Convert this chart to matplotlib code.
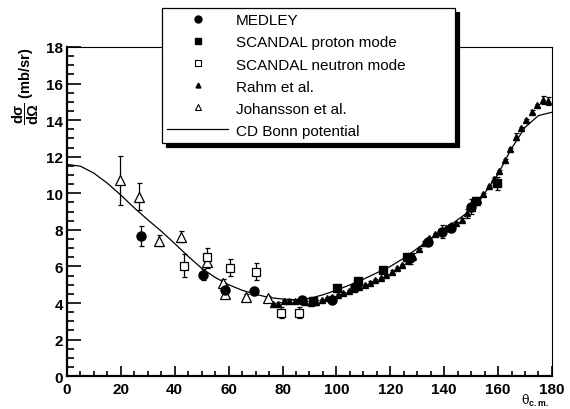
import matplotlib
matplotlib.use("Agg")
import matplotlib.pyplot as plt
from matplotlib.lines import Line2D
from matplotlib.ticker import MultipleLocator

plt.rcParams['font.family'] = ['Liberation Sans', 'DejaVu Sans']
plt.rcParams['font.weight'] = 'bold'
plt.rcParams['mathtext.fontset'] = 'custom'
plt.rcParams['mathtext.rm'] = 'Liberation Sans'
plt.rcParams['mathtext.it'] = 'Liberation Sans:italic'
plt.rcParams['mathtext.bf'] = 'Liberation Sans:bold'

# MEDLEY
medley_x = [27.3, 50.4, 58.6, 69.3, 87.1, 98.3, 106.9, 127.3, 134.1, 139.1, 142.6, 150.0]
medley_y = [7.67, 5.54, 4.72, 4.65, 4.17, 4.18, 4.90, 6.45, 7.36, 7.90, 8.10, 9.27]
medley_err = [0.55, 0.3, 0.25, 0.2, 0.15, 0.15, 0.2, 0.3, 0.2, 0.35, 0.2, 0.4]

# SCANDAL proton mode
sp_x = [91.4, 100.1, 108.1, 117.4, 126.1, 151.8, 159.5]
sp_y = [4.13, 4.81, 5.21, 5.78, 6.54, 9.58, 10.55]
sp_err = [0.1, 0.1, 0.1, 0.1, 0.15, 0.2, 0.35]

# SCANDAL neutron mode
sn_x = [43.4, 52.1, 60.5, 70.2, 79.3, 86.1]
sn_y = [6.05, 6.5, 5.94, 5.72, 3.48, 3.48]
sn_err = [0.65, 0.5, 0.45, 0.47, 0.3, 0.3]

# Rahm et al.
rahm_x = [76.5, 78.5, 80.5, 82.5, 84.5, 88.5, 90.5, 92.5, 94.5, 96.5, 98.5, 100.5,
          102.5, 104.5, 106.5, 108.5, 110.5, 112.5, 114.5, 116.5, 118.5, 120.5, 122.5,
          124.5, 126.5, 128.5, 130.5, 132.5, 134.5, 136.5, 138.5, 140.5, 142.5, 144.5,
          146.5, 148.5, 150.5, 152.5, 154.5, 156.5, 158.5, 160.5, 162.5, 164.5, 166.5,
          168.5, 170.5, 172.5, 174.5, 176.5, 178.5]
rahm_y = [3.95, 3.97, 4.10, 4.12, 4.12, 4.05, 4.02, 4.08, 4.15, 4.25, 4.32, 4.42,
          4.55, 4.65, 4.78, 4.88, 5.00, 5.12, 5.25, 5.38, 5.55, 5.72, 5.90,
          6.10, 6.30, 6.55, 6.95, 7.30, 7.55, 7.75, 7.95, 8.10, 8.25, 8.35,
          8.55, 8.90, 9.20, 9.65, 9.95, 10.40, 10.80, 11.20, 11.80, 12.40, 13.10,
          13.55, 14.00, 14.45, 14.80, 15.10, 15.05]
rahm_err = [0.06, 0.06, 0.06, 0.06, 0.06, 0.06, 0.06, 0.06, 0.06, 0.06, 0.06, 0.06,
            0.06, 0.06, 0.06, 0.06, 0.06, 0.06, 0.06, 0.06, 0.06, 0.06, 0.06,
            0.06, 0.08, 0.2, 0.08, 0.08, 0.08, 0.08, 0.08, 0.08, 0.08, 0.08,
            0.08, 0.25, 0.08, 0.08, 0.08, 0.08, 0.08, 0.08, 0.08, 0.08, 0.2,
            0.08, 0.08, 0.08, 0.08, 0.2, 0.2]

# Johansson et al.
joh_x = [19.7, 26.8, 34.0, 42.3, 51.8, 58.0, 58.6, 66.3, 74.6]
joh_y = [10.7, 9.82, 7.4, 7.63, 6.23, 5.1, 4.5, 4.35, 4.26]
joh_err = [1.35, 0.75, 0.3, 0.32, 0.3, 0.2, 0.15, 0.15, 0.15]

# CD Bonn potential
cdb_x = [0, 5, 10, 15, 20, 25, 30, 35, 40, 45, 50, 55, 60, 65, 70, 75, 80, 85, 90,
         95, 100, 105, 110, 115, 120, 125, 130, 135, 140, 145, 150, 155, 160, 165,
         170, 175, 180]
cdb_y = [11.58, 11.48, 11.1, 10.55, 9.9, 9.2, 8.55, 7.93, 7.25, 6.55, 5.9, 5.4,
         5.0, 4.7, 4.48, 4.3, 4.22, 4.18, 4.25, 4.45, 4.7, 4.99, 5.3, 5.65, 6.0,
         6.45, 6.98, 7.5, 8.0, 8.55, 9.1, 10.0, 11.05, 12.45, 13.6, 14.25, 14.43]

fig = plt.figure(figsize=(5.7, 4.1), dpi=100)
ax = fig.add_axes([0.1175, 0.08, 0.8508, 0.803])

eb = dict(capsize=1.8, elinewidth=0.9, capthick=0.9, color='black', ls='none')
ax.plot(cdb_x, cdb_y, color='black', lw=0.9, zorder=2)
ax.errorbar(rahm_x, rahm_y, yerr=rahm_err, fmt='^', ms=3.8, **eb)
ax.errorbar(joh_x, joh_y, yerr=joh_err, fmt='^', ms=6.5, mfc='white', mec='black',
            mew=0.9, **eb)
ax.errorbar(sn_x, sn_y, yerr=sn_err, fmt='s', ms=6, mfc='white', mec='black',
            mew=0.9, **eb)
ax.errorbar(sp_x, sp_y, yerr=sp_err, fmt='s', ms=6, **eb)
ax.errorbar(medley_x, medley_y, yerr=medley_err, fmt='o', ms=6.5, **eb)

ax.set_xlim(0, 180)
ax.set_ylim(0, 18)
ax.xaxis.set_major_locator(MultipleLocator(20))
ax.xaxis.set_minor_locator(MultipleLocator(5))
ax.yaxis.set_major_locator(MultipleLocator(2))
ax.yaxis.set_minor_locator(MultipleLocator(0.5))
ax.tick_params(which='both', direction='in', top=False, right=False, width=1.2)
ax.tick_params(axis='x', which='major', length=7, pad=4, labelsize=11)
ax.tick_params(axis='x', which='minor', length=3.5)
ax.tick_params(axis='y', which='major', length=10, pad=3, labelsize=11)
ax.tick_params(axis='y', which='minor', length=5)
ax.spines['left'].set_linewidth(1.6)
ax.spines['bottom'].set_linewidth(1.6)
ax.spines['top'].set_linewidth(0.8)
ax.spines['right'].set_linewidth(0.8)

fig.text(0.045, 0.885, r'$\mathbf{\dfrac{d\sigma}{d\Omega}}$ (mb/sr)', rotation=90,
         ha='center', va='top', fontsize=10.5, fontweight='bold')
fig.text(0.938, 0.002, 'θ$_{\\mathrm{c.m.}}$', ha='center', va='bottom',
         fontsize=9, fontweight='normal', family=['DejaVu Serif'])

handles = [
    Line2D([], [], ls='none', marker='o', ms=5, color='black'),
    Line2D([], [], ls='none', marker='s', ms=4.5, color='black'),
    Line2D([], [], ls='none', marker='s', ms=4.5, mfc='white', mec='black', mew=0.8),
    Line2D([], [], ls='none', marker='^', ms=3.5, color='black'),
    Line2D([], [], ls='none', marker='^', ms=4.5, mfc='white', mec='black', mew=0.8),
    Line2D([], [], color='black', lw=0.9),
]
labels = ['MEDLEY', 'SCANDAL proton mode', 'SCANDAL neutron mode', 'Rahm et al.',
          'Johansson et al.', 'CD Bonn potential']
leg = fig.legend(handles, labels,
                 bbox_to_anchor=(162 / 570, 1 - 153 / 410, 293 / 570, 144 / 410),
                 loc='upper left', mode='expand', frameon=True,
                 prop={'family': ['Liberation Sans'], 'size': 11, 'weight': 'normal'},
                 fancybox=False, edgecolor='black', framealpha=1,
                 shadow={'color': 'black', 'alpha': 1, 'ox': 3, 'oy': -3},
                 borderpad=0.35, labelspacing=0.53, handlelength=4.0,
                 handletextpad=0.5, borderaxespad=0)
leg.get_frame().set_linewidth(0.9)

fig.savefig('out.png', dpi=100)
